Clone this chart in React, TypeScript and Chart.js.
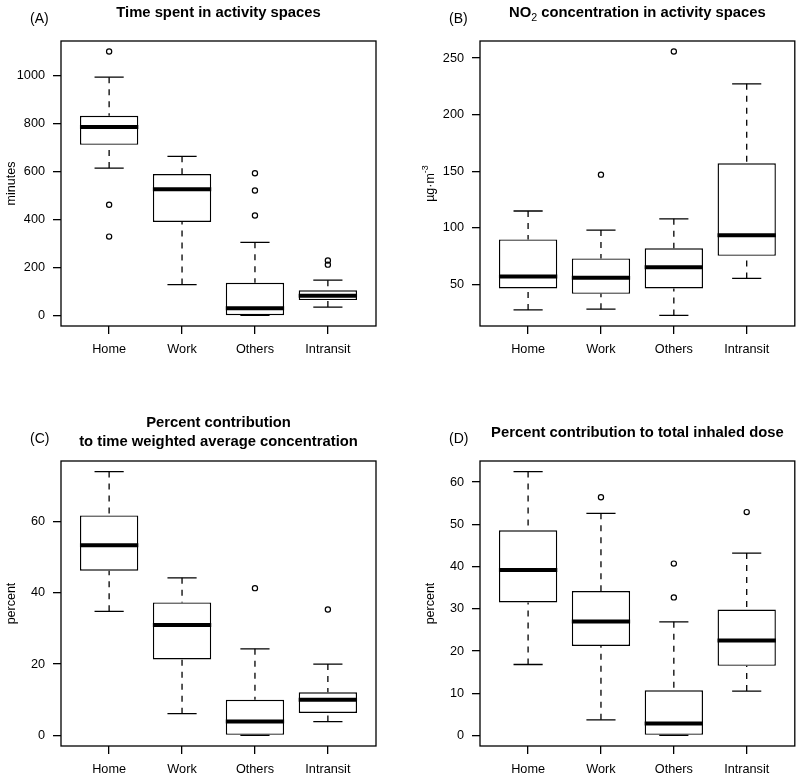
import React, { useEffect, useRef } from "react";
import { Chart, registerables } from "chart.js";

Chart.register(...registerables);

const FONT = "'Liberation Sans', Arial, Helvetica, sans-serif";

const categories = ["Home", "Work", "Others", "Intransit"];

// (A) Time spent in activity spaces (minutes)
const timeLower = [615, 129, 0, 35];
const timeQ1 = [712, 390, 1, 64];
const timeMedian = [786, 526, 30, 82];
const timeQ3 = [833, 590, 136, 105];
const timeUpper = [994, 664, 305, 147];
const timeOutliers = [[1101, 462, 329], [], [593, 521, 417], [229, 212]];
const timeTicks = [0, 200, 400, 600, 800, 1000];

// (B) NO2 concentration in activity spaces (µg·m-3)
const no2Lower = [27.5, 28.1, 22.6, 55.3];
const no2Q1 = [46.5, 41.7, 46.5, 75.3];
const no2Median = [57.1, 55.9, 65.3, 93.4];
const no2Q3 = [89.8, 73.0, 81.9, 157.1];
const no2Upper = [114.9, 98.0, 108.0, 227.3];
const no2Outliers = [[], [147], [255.8], []];
const no2Ticks = [50, 100, 150, 200, 250];

// (C) Percent contribution to time weighted average concentration
const twaLower = [34.8, 6.1, 0, 3.9];
const twaQ1 = [46.2, 21.3, 0, 6.3];
const twaMedian = [53.3, 31.0, 3.9, 10.0];
const twaQ3 = [61.7, 37.3, 10.0, 12.1];
const twaUpper = [74.0, 44.2, 24.3, 20.0];
const twaOutliers = [[], [], [41.3], [35.3]];
const twaTicks = [0, 20, 40, 60];

// (D) Percent contribution to total inhaled dose
const doseLower = [16.8, 3.7, 0, 10.5];
const doseQ1 = [31.5, 21.2, 0, 16.5];
const doseMedian = [39.2, 27.0, 2.8, 22.5];
const doseQ3 = [48.6, 34.2, 10.7, 29.8];
const doseUpper = [62.5, 52.6, 26.9, 43.2];
const doseOutliers = [[], [56.4], [40.7, 32.7], [52.9]];
const doseTicks = [0, 10, 20, 30, 40, 50, 60];

type Seg = { t: string; sub?: boolean; sup?: boolean };

interface PanelDef {
  label: string;
  title: Seg[][];
  yTitle: Seg[];
  lower: number[];
  q1: number[];
  median: number[];
  q3: number[];
  upper: number[];
  outliers: number[][];
  ticks: number[];
  canvas: { x: number; y: number; w: number; h: number };
  area: { l: number; t: number; r: number; b: number };
}

const panels: PanelDef[] = [
  {
    label: "(A)",
    title: [[{ t: "Time spent in activity spaces" }]],
    yTitle: [{ t: "minutes" }],
    lower: timeLower, q1: timeQ1, median: timeMedian, q3: timeQ3, upper: timeUpper,
    outliers: timeOutliers, ticks: timeTicks,
    canvas: { x: 0, y: 0, w: 400, h: 388 },
    area: { l: 61, t: 41, r: 376, b: 326 },
  },
  {
    label: "(B)",
    title: [[{ t: "NO" }, { t: "2", sub: true }, { t: " concentration in activity spaces" }]],
    yTitle: [{ t: "µg·m" }, { t: "-3", sup: true }],
    lower: no2Lower, q1: no2Q1, median: no2Median, q3: no2Q3, upper: no2Upper,
    outliers: no2Outliers, ticks: no2Ticks,
    canvas: { x: 400, y: 0, w: 400, h: 388 },
    area: { l: 80, t: 41, r: 395, b: 326 },
  },
  {
    label: "(C)",
    title: [[{ t: "Percent contribution" }], [{ t: "to time weighted average concentration" }]],
    yTitle: [{ t: "percent" }],
    lower: twaLower, q1: twaQ1, median: twaMedian, q3: twaQ3, upper: twaUpper,
    outliers: twaOutliers, ticks: twaTicks,
    canvas: { x: 0, y: 388, w: 400, h: 389 },
    area: { l: 61, t: 73, r: 376, b: 358 },
  },
  {
    label: "(D)",
    title: [[{ t: "Percent contribution to total inhaled dose" }]],
    yTitle: [{ t: "percent" }],
    lower: doseLower, q1: doseQ1, median: doseMedian, q3: doseQ3, upper: doseUpper,
    outliers: doseOutliers, ticks: doseTicks,
    canvas: { x: 400, y: 388, w: 400, h: 389 },
    area: { l: 80, t: 73, r: 395, b: 358 },
  },
];

function segFont(seg: Seg, size: number, bold: boolean) {
  const small = seg.sub || seg.sup;
  const s = small ? size * 0.72 : size;
  const w = bold && !small ? "bold " : "";
  return `${w}${s}px ${FONT}`;
}

function drawSegs(ctx: CanvasRenderingContext2D, segs: Seg[], size: number, bold: boolean, cx: number, by: number) {
  let total = 0;
  const widths = segs.map((sg) => {
    ctx.font = segFont(sg, size, bold);
    const w = ctx.measureText(sg.t).width;
    total += w;
    return w;
  });
  let x = cx - total / 2;
  ctx.textAlign = "left";
  ctx.textBaseline = "alphabetic";
  segs.forEach((sg, i) => {
    ctx.font = segFont(sg, size, bold);
    const dy = sg.sub ? size * 0.28 : sg.sup ? -size * 0.42 : 0;
    ctx.fillText(sg.t, x, by + dy);
    x += widths[i];
  });
}

function makePlugin(p: PanelDef) {
  return {
    id: "boxExtras",
    afterDatasetsDraw(chart: any) {
      const ctx: CanvasRenderingContext2D = chart.ctx;
      const y = chart.scales.y;
      const meta = chart.getDatasetMeta(0);
      ctx.save();
      ctx.strokeStyle = "#000";
      ctx.lineCap = "butt";
      meta.data.forEach((bar: any, i: number) => {
        const { x, width } = bar.getProps(["x", "width"], true);
        const half = width / 2;
        const capHalf = width / 4;
        const pUp = y.getPixelForValue(p.upper[i]);
        const pQ3 = y.getPixelForValue(p.q3[i]);
        const pQ1 = y.getPixelForValue(p.q1[i]);
        const pLo = y.getPixelForValue(p.lower[i]);
        const pMed = y.getPixelForValue(p.median[i]);
        ctx.lineWidth = 1.3;
        ctx.setLineDash([6, 6]);
        ctx.beginPath();
        ctx.moveTo(x, pUp);
        ctx.lineTo(x, pQ3);
        ctx.stroke();
        ctx.beginPath();
        ctx.moveTo(x, pLo);
        ctx.lineTo(x, pQ1);
        ctx.stroke();
        ctx.setLineDash([]);
        ctx.beginPath();
        ctx.moveTo(x - capHalf, pUp);
        ctx.lineTo(x + capHalf, pUp);
        ctx.moveTo(x - capHalf, pLo);
        ctx.lineTo(x + capHalf, pLo);
        ctx.stroke();
        ctx.lineWidth = 4;
        ctx.beginPath();
        ctx.moveTo(x - half, pMed);
        ctx.lineTo(x + half, pMed);
        ctx.stroke();
      });
      ctx.restore();
    },
    afterDraw(chart: any) {
      const ctx: CanvasRenderingContext2D = chart.ctx;
      const ca = chart.chartArea;
      ctx.save();
      ctx.strokeStyle = "#000";
      ctx.lineWidth = 1.3;
      ctx.strokeRect(ca.left, ca.top, ca.right - ca.left, ca.bottom - ca.top);
      ctx.fillStyle = "#000";
      // title
      const cx = (ca.left + ca.right) / 2;
      const center = ca.top - 24.5;
      const n = p.title.length;
      p.title.forEach((line, i) => {
        drawSegs(ctx, line, 14.8, true, cx, center + (i - (n - 1) / 2) * 18.7);
      });
      // panel label
      ctx.font = `14px ${FONT}`;
      ctx.textAlign = "left";
      ctx.textBaseline = "alphabetic";
      ctx.fillText(p.label, ca.left - 31, ca.top - 18);
      // y title
      ctx.save();
      ctx.translate(ca.left - 51, (ca.top + ca.bottom) / 2);
      ctx.rotate(-Math.PI / 2);
      drawSegs(ctx, p.yTitle, 12.5, false, 0, 4.5);
      ctx.restore();
      ctx.restore();
    },
  };
}

function Panel({ p }: { p: PanelDef }) {
  const ref = useRef<HTMLCanvasElement>(null);
  useEffect(() => {
    if (!ref.current) return;
    const all = [
      ...p.lower, ...p.upper, ...p.q1, ...p.q3,
      ...p.outliers.reduce((a: number[], b) => a.concat(b), []),
    ];
    const dMin = Math.min(...all);
    const dMax = Math.max(...all);
    const ext = (dMax - dMin) * 0.04;
    const xMin = 0.5 - 0.04 * categories.length;
    const xMax = categories.length + 0.5 + 0.04 * categories.length;
    const tickFont = { family: FONT, size: 12.7 };
    const outlierPts: { x: number; y: number }[] = [];
    p.outliers.forEach((arr, i) => arr.forEach((v) => outlierPts.push({ x: i + 1, y: v })));

    const chart = new Chart(ref.current, {
      type: "bar",
      data: {
        datasets: [
          {
            type: "bar",
            data: categories.map((_, i) => ({ x: i + 1, y: [p.q1[i], p.q3[i]] })) as any,
            backgroundColor: "#ffffff",
            borderColor: "#000000",
            borderWidth: 1.4,
            borderSkipped: false,
            barPercentage: 1,
            categoryPercentage: 0.8,
          } as any,
          {
            type: "scatter",
            data: outlierPts,
            pointRadius: 2.6,
            pointBorderWidth: 1.2,
            pointBackgroundColor: "rgba(0,0,0,0)",
            pointBorderColor: "#000000",
            showLine: false,
          } as any,
        ],
      },
      options: {
        animation: false,
        responsive: false,
        devicePixelRatio: 1,
        events: [],
        layout: {
          padding: { left: 0, top: p.area.t, right: p.canvas.w - p.area.r, bottom: 0 },
        },
        plugins: { legend: { display: false }, tooltip: { enabled: false }, title: { display: false } },
        scales: {
          x: {
            type: "linear",
            min: xMin,
            max: xMax,
            offset: false,
            afterBuildTicks: (s: any) => {
              s.ticks = categories.map((_, i) => ({ value: i + 1 }));
            },
            afterFit: (s: any) => {
              s.height = p.canvas.h - p.area.b;
            },
            grid: {
              display: true, drawOnChartArea: false, drawTicks: true, tickLength: 8,
              color: "#000", lineWidth: 1.3, offset: false,
            },
            border: { display: false },
            ticks: {
              color: "#000", font: tickFont, padding: 8, maxRotation: 0, autoSkip: false,
              callback: (v: any) => categories[Math.round(Number(v)) - 1] ?? "",
            },
          } as any,
          y: {
            type: "linear",
            min: dMin - ext,
            max: dMax + ext,
            beginAtZero: false,
            afterBuildTicks: (s: any) => {
              s.ticks = p.ticks.map((v) => ({ value: v }));
            },
            afterFit: (s: any) => {
              s.width = p.area.l;
            },
            grid: {
              display: true, drawOnChartArea: false, drawTicks: true, tickLength: 8,
              color: "#000", lineWidth: 1.3,
            },
            border: { display: false },
            ticks: {
              color: "#000", font: tickFont, padding: 8, autoSkip: false,
              callback: (v: any) => String(v),
            },
          } as any,
        },
      },
      plugins: [makePlugin(p) as any],
    });
    return () => chart.destroy();
  }, [p]);
  return (
    <canvas
      ref={ref}
      width={p.canvas.w}
      height={p.canvas.h}
      style={{
        position: "absolute",
        left: p.canvas.x,
        top: p.canvas.y,
        width: p.canvas.w,
        height: p.canvas.h,
        display: "block",
      }}
    />
  );
}

export default function App() {
  return (
    <div
      style={{
        position: "absolute",
        left: 0,
        top: 0,
        width: 800,
        height: 777,
        background: "#ffffff",
        overflow: "hidden",
      }}
    >
      {panels.map((p) => (
        <Panel key={p.label} p={p} />
      ))}
    </div>
  );
}
